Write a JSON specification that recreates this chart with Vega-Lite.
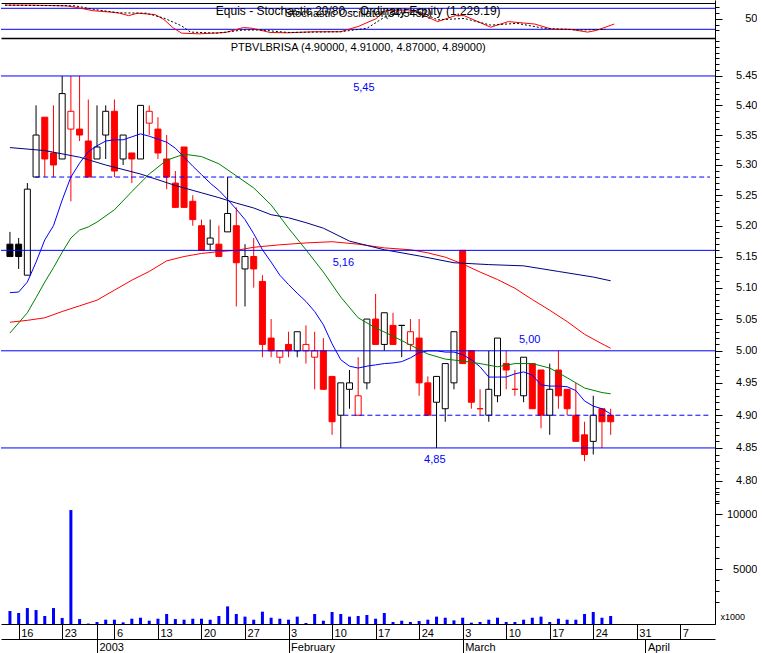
{
"$schema": "https://vega.github.io/schema/vega-lite/v6.json",
"background": "white",
"padding": 0,
"spacing": 0,
"bounds": "flush",
"datasets": {
"candles": [
{"i":0,"o":5.17,"h":5.19,"l":5.15,"c":5.15,"move":"up","vol":1180},
{"i":1,"o":5.17,"h":5.18,"l":5.13,"c":5.15,"move":"up","vol":1000},
{"i":2,"o":5.12,"h":5.27,"l":5.12,"c":5.26,"move":"up","vol":1450},
{"i":3,"o":5.28,"h":5.40,"l":5.28,"c":5.35,"move":"up","vol":1270},
{"i":4,"o":5.38,"h":5.38,"l":5.28,"c":5.31,"move":"down","vol":730},
{"i":5,"o":5.32,"h":5.40,"l":5.28,"c":5.30,"move":"down","vol":1450},
{"i":6,"o":5.31,"h":5.45,"l":5.31,"c":5.42,"move":"up","vol":550},
{"i":7,"o":5.36,"h":5.45,"l":5.24,"c":5.39,"move":"down","vol":10360},
{"i":8,"o":5.36,"h":5.45,"l":5.34,"c":5.35,"move":"down","vol":450},
{"i":9,"o":5.34,"h":5.41,"l":5.28,"c":5.28,"move":"down","vol":40},
{"i":10,"o":5.31,"h":5.40,"l":5.31,"c":5.33,"move":"up","vol":180},
{"i":11,"o":5.35,"h":5.40,"l":5.31,"c":5.39,"move":"up","vol":390},
{"i":12,"o":5.39,"h":5.41,"l":5.28,"c":5.29,"move":"down","vol":390},
{"i":13,"o":5.31,"h":5.35,"l":5.30,"c":5.35,"move":"up","vol":150},
{"i":14,"o":5.32,"h":5.32,"l":5.27,"c":5.31,"move":"down","vol":480},
{"i":15,"o":5.31,"h":5.40,"l":5.31,"c":5.40,"move":"up","vol":570},
{"i":16,"o":5.37,"h":5.40,"l":5.35,"c":5.39,"move":"down","vol":300},
{"i":17,"o":5.36,"h":5.38,"l":5.31,"c":5.32,"move":"down","vol":480},
{"i":18,"o":5.31,"h":5.35,"l":5.26,"c":5.28,"move":"down","vol":910},
{"i":19,"o":5.27,"h":5.29,"l":5.23,"c":5.23,"move":"down","vol":450},
{"i":20,"o":5.33,"h":5.33,"l":5.23,"c":5.23,"move":"down","vol":390},
{"i":21,"o":5.24,"h":5.25,"l":5.20,"c":5.21,"move":"down","vol":480},
{"i":22,"o":5.20,"h":5.21,"l":5.16,"c":5.16,"move":"down","vol":480},
{"i":23,"o":5.17,"h":5.21,"l":5.16,"c":5.18,"move":"up","vol":390},
{"i":24,"o":5.17,"h":5.20,"l":5.15,"c":5.15,"move":"down","vol":730},
{"i":25,"o":5.19,"h":5.28,"l":5.19,"c":5.22,"move":"up","vol":1600},
{"i":26,"o":5.20,"h":5.23,"l":5.07,"c":5.14,"move":"down","vol":910},
{"i":27,"o":5.13,"h":5.17,"l":5.07,"c":5.15,"move":"up","vol":670},
{"i":28,"o":5.15,"h":5.18,"l":5.10,"c":5.13,"move":"down","vol":390},
{"i":29,"o":5.11,"h":5.12,"l":4.99,"c":5.01,"move":"down","vol":1120},
{"i":30,"o":5.02,"h":5.05,"l":4.99,"c":5.00,"move":"down","vol":570},
{"i":31,"o":4.99,"h":5.00,"l":4.98,"c":5.00,"move":"down","vol":480},
{"i":32,"o":5.01,"h":5.03,"l":4.99,"c":5.00,"move":"down","vol":390},
{"i":33,"o":5.00,"h":5.03,"l":4.99,"c":5.03,"move":"up","vol":670},
{"i":34,"o":5.00,"h":5.04,"l":4.98,"c":5.01,"move":"down","vol":90},
{"i":35,"o":4.99,"h":5.03,"l":4.94,"c":5.00,"move":"down","vol":910},
{"i":36,"o":5.00,"h":5.02,"l":4.94,"c":4.94,"move":"down","vol":300},
{"i":37,"o":4.96,"h":4.96,"l":4.87,"c":4.89,"move":"down","vol":1090},
{"i":38,"o":4.90,"h":4.95,"l":4.85,"c":4.95,"move":"up","vol":910},
{"i":39,"o":4.94,"h":4.97,"l":4.91,"c":4.95,"move":"up","vol":670},
{"i":40,"o":4.90,"h":4.99,"l":4.90,"c":4.93,"move":"down","vol":730},
{"i":41,"o":4.95,"h":5.05,"l":4.94,"c":5.05,"move":"up","vol":820},
{"i":42,"o":5.05,"h":5.09,"l":5.01,"c":5.01,"move":"down","vol":480},
{"i":43,"o":5.01,"h":5.06,"l":5.00,"c":5.06,"move":"up","vol":1000},
{"i":44,"o":5.04,"h":5.06,"l":5.01,"c":5.01,"move":"down","vol":180},
{"i":45,"o":5.04,"h":5.04,"l":4.99,"c":5.04,"move":"up","vol":300},
{"i":46,"o":5.01,"h":5.05,"l":5.00,"c":5.03,"move":"down","vol":180},
{"i":47,"o":5.02,"h":5.05,"l":4.93,"c":4.95,"move":"down","vol":270},
{"i":48,"o":4.95,"h":4.96,"l":4.90,"c":4.90,"move":"down","vol":390},
{"i":49,"o":4.92,"h":4.96,"l":4.85,"c":4.96,"move":"up","vol":670},
{"i":50,"o":4.91,"h":4.98,"l":4.89,"c":4.98,"move":"up","vol":570},
{"i":51,"o":4.95,"h":5.03,"l":4.94,"c":5.03,"move":"up","vol":330},
{"i":52,"o":5.16,"h":5.16,"l":4.98,"c":4.98,"move":"down","vol":570},
{"i":53,"o":5.00,"h":5.00,"l":4.91,"c":4.92,"move":"down","vol":120},
{"i":54,"o":4.91,"h":4.94,"l":4.90,"c":4.91,"move":"down","vol":180},
{"i":55,"o":4.90,"h":5.00,"l":4.89,"c":4.94,"move":"up","vol":390},
{"i":56,"o":4.93,"h":5.02,"l":4.92,"c":5.02,"move":"up","vol":570},
{"i":57,"o":4.98,"h":5.00,"l":4.94,"c":4.97,"move":"down","vol":180},
{"i":58,"o":4.94,"h":4.97,"l":4.93,"c":4.94,"move":"down","vol":180},
{"i":59,"o":4.93,"h":4.99,"l":4.92,"c":4.99,"move":"up","vol":390},
{"i":60,"o":4.98,"h":4.98,"l":4.91,"c":4.91,"move":"down","vol":570},
{"i":61,"o":4.97,"h":4.97,"l":4.88,"c":4.90,"move":"down","vol":670},
{"i":62,"o":4.90,"h":4.98,"l":4.87,"c":4.94,"move":"up","vol":180},
{"i":63,"o":4.97,"h":5.00,"l":4.91,"c":4.93,"move":"down","vol":480},
{"i":64,"o":4.94,"h":4.94,"l":4.90,"c":4.91,"move":"down","vol":390},
{"i":65,"o":4.90,"h":4.95,"l":4.86,"c":4.86,"move":"down","vol":390},
{"i":66,"o":4.87,"h":4.89,"l":4.83,"c":4.84,"move":"down","vol":910},
{"i":67,"o":4.86,"h":4.93,"l":4.84,"c":4.90,"move":"up","vol":1090},
{"i":68,"o":4.91,"h":4.91,"l":4.85,"c":4.89,"move":"down","vol":570},
{"i":69,"o":4.90,"h":4.91,"l":4.87,"c":4.89,"move":"down","vol":730}
],
"ma": [
{"s":"m10","i":0,"v":5.092},{"s":"m10","i":1,"v":5.093},{"s":"m10","i":2,"v":5.109},{"s":"m10","i":3,"v":5.141},{"s":"m10","i":4,"v":5.177},{"s":"m10","i":5,"v":5.200},{"s":"m10","i":6,"v":5.242},{"s":"m10","i":7,"v":5.280},{"s":"m10","i":8,"v":5.303},{"s":"m10","i":9,"v":5.322},{"s":"m10","i":10,"v":5.332},{"s":"m10","i":11,"v":5.340},{"s":"m10","i":12,"v":5.342},{"s":"m10","i":13,"v":5.342},{"s":"m10","i":14,"v":5.347},{"s":"m10","i":15,"v":5.352},{"s":"m10","i":16,"v":5.348},{"s":"m10","i":17,"v":5.343},{"s":"m10","i":18,"v":5.338},{"s":"m10","i":19,"v":5.328},{"s":"m10","i":20,"v":5.313},{"s":"m10","i":21,"v":5.298},{"s":"m10","i":22,"v":5.284},{"s":"m10","i":23,"v":5.270},{"s":"m10","i":24,"v":5.258},{"s":"m10","i":25,"v":5.243},{"s":"m10","i":26,"v":5.227},{"s":"m10","i":27,"v":5.210},{"s":"m10","i":28,"v":5.187},{"s":"m10","i":29,"v":5.161},{"s":"m10","i":30,"v":5.141},{"s":"m10","i":31,"v":5.120},{"s":"m10","i":32,"v":5.105},{"s":"m10","i":33,"v":5.091},{"s":"m10","i":34,"v":5.078},{"s":"m10","i":35,"v":5.062},{"s":"m10","i":36,"v":5.041},{"s":"m10","i":37,"v":5.011},{"s":"m10","i":38,"v":4.986},{"s":"m10","i":39,"v":4.976},{"s":"m10","i":40,"v":4.973},{"s":"m10","i":41,"v":4.976},{"s":"m10","i":42,"v":4.978},{"s":"m10","i":43,"v":4.980},{"s":"m10","i":44,"v":4.981},{"s":"m10","i":45,"v":4.983},{"s":"m10","i":46,"v":4.989},{"s":"m10","i":47,"v":4.997},{"s":"m10","i":48,"v":5.000},{"s":"m10","i":49,"v":5.000},{"s":"m10","i":50,"v":4.998},{"s":"m10","i":51,"v":4.998},{"s":"m10","i":52,"v":4.994},{"s":"m10","i":53,"v":4.986},{"s":"m10","i":54,"v":4.975},{"s":"m10","i":55,"v":4.959},{"s":"m10","i":56,"v":4.959},{"s":"m10","i":57,"v":4.959},{"s":"m10","i":58,"v":4.964},{"s":"m10","i":59,"v":4.967},{"s":"m10","i":60,"v":4.962},{"s":"m10","i":61,"v":4.947},{"s":"m10","i":62,"v":4.945},{"s":"m10","i":63,"v":4.945},{"s":"m10","i":64,"v":4.944},{"s":"m10","i":65,"v":4.938},{"s":"m10","i":66,"v":4.922},{"s":"m10","i":67,"v":4.914},{"s":"m10","i":68,"v":4.910},{"s":"m10","i":69,"v":4.902},
{"s":"m20","i":0,"v":5.028},{"s":"m20","i":2,"v":5.060},{"s":"m20","i":3,"v":5.084},{"s":"m20","i":4,"v":5.109},{"s":"m20","i":5,"v":5.132},{"s":"m20","i":6,"v":5.157},{"s":"m20","i":7,"v":5.180},{"s":"m20","i":8,"v":5.193},{"s":"m20","i":9,"v":5.198},{"s":"m20","i":10,"v":5.206},{"s":"m20","i":12,"v":5.226},{"s":"m20","i":14,"v":5.256},{"s":"m20","i":16,"v":5.285},{"s":"m20","i":18,"v":5.308},{"s":"m20","i":20,"v":5.318},{"s":"m20","i":22,"v":5.314},{"s":"m20","i":24,"v":5.302},{"s":"m20","i":26,"v":5.282},{"s":"m20","i":28,"v":5.262},{"s":"m20","i":30,"v":5.234},{"s":"m20","i":32,"v":5.196},{"s":"m20","i":34,"v":5.161},{"s":"m20","i":36,"v":5.125},{"s":"m20","i":38,"v":5.085},{"s":"m20","i":40,"v":5.052},{"s":"m20","i":42,"v":5.036},{"s":"m20","i":44,"v":5.023},{"s":"m20","i":46,"v":5.009},{"s":"m20","i":48,"v":4.995},{"s":"m20","i":50,"v":4.987},{"s":"m20","i":52,"v":4.984},{"s":"m20","i":54,"v":4.980},{"s":"m20","i":56,"v":4.975},{"s":"m20","i":58,"v":4.980},{"s":"m20","i":60,"v":4.980},{"s":"m20","i":62,"v":4.973},{"s":"m20","i":64,"v":4.958},{"s":"m20","i":66,"v":4.942},{"s":"m20","i":68,"v":4.935},{"s":"m20","i":69,"v":4.933},
{"s":"m50","i":0,"v":5.045},{"s":"m50","i":2,"v":5.048},{"s":"m50","i":4,"v":5.052},{"s":"m50","i":6,"v":5.062},{"s":"m50","i":8,"v":5.071},{"s":"m50","i":10,"v":5.080},{"s":"m50","i":12,"v":5.096},{"s":"m50","i":14,"v":5.112},{"s":"m50","i":16,"v":5.126},{"s":"m50","i":18,"v":5.143},{"s":"m50","i":20,"v":5.150},{"s":"m50","i":22,"v":5.155},{"s":"m50","i":24,"v":5.158},{"s":"m50","i":26,"v":5.160},{"s":"m50","i":28,"v":5.165},{"s":"m50","i":31,"v":5.169},{"s":"m50","i":34,"v":5.172},{"s":"m50","i":37,"v":5.174},{"s":"m50","i":40,"v":5.170},{"s":"m50","i":43,"v":5.164},{"s":"m50","i":46,"v":5.161},{"s":"m50","i":48,"v":5.156},{"s":"m50","i":50,"v":5.149},{"s":"m50","i":52,"v":5.138},{"s":"m50","i":54,"v":5.125},{"s":"m50","i":56,"v":5.113},{"s":"m50","i":58,"v":5.099},{"s":"m50","i":60,"v":5.081},{"s":"m50","i":62,"v":5.064},{"s":"m50","i":64,"v":5.046},{"s":"m50","i":66,"v":5.026},{"s":"m50","i":68,"v":5.011},{"s":"m50","i":69,"v":5.004},
{"s":"m100","i":0,"v":5.329},{"s":"m100","i":4,"v":5.324},{"s":"m100","i":8,"v":5.313},{"s":"m100","i":11,"v":5.300},{"s":"m100","i":15,"v":5.285},{"s":"m100","i":19,"v":5.266},{"s":"m100","i":22,"v":5.254},{"s":"m100","i":24,"v":5.246},{"s":"m100","i":26,"v":5.237},{"s":"m100","i":28,"v":5.229},{"s":"m100","i":30,"v":5.218},{"s":"m100","i":32,"v":5.213},{"s":"m100","i":34,"v":5.205},{"s":"m100","i":36,"v":5.196},{"s":"m100","i":39,"v":5.175},{"s":"m100","i":43,"v":5.161},{"s":"m100","i":47,"v":5.151},{"s":"m100","i":51,"v":5.140},{"s":"m100","i":55,"v":5.137},{"s":"m100","i":59,"v":5.135},{"s":"m100","i":63,"v":5.126},{"s":"m100","i":67,"v":5.117},{"s":"m100","i":69,"v":5.111}
],
"stochK": [
{"i":0,"k":89},{"i":3,"k":89},{"i":7,"k":87},{"i":8,"k":83},{"i":10,"k":73},{"i":12,"k":69},{"i":13,"k":66},{"i":14,"k":59},{"i":15,"k":66},{"i":17,"k":62},{"i":18,"k":48},{"i":19,"k":25},{"i":20,"k":9},{"i":22,"k":7},{"i":25,"k":11},{"i":27,"k":25},{"i":28,"k":23},{"i":30,"k":11},{"i":32,"k":10},{"i":35,"k":13},{"i":38,"k":13},{"i":40,"k":28},{"i":42,"k":50},{"i":43,"k":72},{"i":44,"k":75},{"i":46,"k":75},{"i":47,"k":65},{"i":49,"k":42},{"i":51,"k":59},{"i":52,"k":59},{"i":55,"k":26},{"i":57,"k":42},{"i":60,"k":35},{"i":62,"k":20},{"i":64,"k":20},{"i":66,"k":12},{"i":67,"k":17},{"i":69,"k":35}
],
"stochD": [
{"i":0,"d":89},{"i":8,"d":87},{"i":10,"d":77},{"i":13,"d":67},{"i":16,"d":66},{"i":18,"d":52},{"i":20,"d":30},{"i":21,"d":12},{"i":24,"d":9},{"i":27,"d":18},{"i":29,"d":18},{"i":32,"d":11},{"i":38,"d":13},{"i":41,"d":23},{"i":43,"d":55},{"i":45,"d":68},{"i":47,"d":70},{"i":49,"d":47},{"i":52,"d":51},{"i":55,"d":32},{"i":58,"d":37},{"i":61,"d":23},{"i":65,"d":18},{"i":68,"d":20}
],
"levels": [{"level":5.45},{"level":5.16},{"level":5.00},{"level":4.85}],
"dashed": [{"level":5.28,"start":2.9},{"level":4.90,"start":38.3}],
"notes": [
{"level":5.45,"label":"5,45","at":40.65,"side":"below"},
{"level":5.16,"label":"5,16","at":38.3,"side":"below"},
{"level":5.00,"label":"5,00","at":59.7,"side":"above"},
{"level":4.85,"label":"4,85","at":48.8,"side":"below"}
]
},
"vconcat": [
{
"width": 714,
"height": 38,
"layer": [
{
"data": {"values": [{"lvl":20},{"lvl":80}]},
"mark": {"type":"rule","color":"#0000ff","strokeWidth":1},
"encoding": {
"y": {"field":"lvl","type":"quantitative","scale":{"domain":[-4.86,103.71],"nice":false,"zero":false},
"axis": {"orient":"right","values":[16.67,33.33,50,66.67,83.33],"labelExpr":"datum.value == 50 ? '50' : ''","tickSize":{"condition":{"test":"datum.value == 50","value":7},"value":4},"labelAlign":"right","labelPadding":35,"labelBaseline":"middle","title":null,"grid":false,"labelOverlap":false}}
}
},
{
"data": {"name":"stochK"},
"mark": {"type":"line","color":"#ff0000","strokeWidth":1},
"encoding": {
"x": {"field":"i","type":"quantitative","scale":{"domain":[-0.453,80.41],"nice":false,"zero":false},
"axis": {"orient":"top","offset":-3,"ticks":false,"labels":false,"domain":true,"domainWidth":1,"title":null,"grid":false}},
"y": {"field":"k","type":"quantitative","scale":{"domain":[-4.86,103.71],"nice":false,"zero":false},"axis":null}
}
},
{
"data": {"name":"stochD"},
"mark": {"type":"line","color":"#000000","strokeWidth":1,"strokeDash":[2,2]},
"encoding": {
"x": {"field":"i","type":"quantitative","scale":{"domain":[-0.453,80.41],"nice":false,"zero":false},
"axis": {"orient":"bottom","ticks":false,"labels":false,"domain":true,"domainWidth":1.5,"title":null,"grid":false}},
"y": {"field":"d","type":"quantitative","scale":{"domain":[-4.86,103.71],"nice":false,"zero":false},"axis":null}
}
},
{
"data": {"values": [{"t":"Equis - Stochastic 20/80 -- Ordinary Equity (1,229.19)"}]},
"mark": {"type":"text","font":"Liberation Sans","fontSize":12,"color":"#000000","baseline":"middle","align":"center"},
"encoding": {
"x": {"datum":40,"type":"quantitative","scale":{"domain":[-0.453,80.41],"nice":false,"zero":false},"axis":null},
"y": {"datum":73.7,"type":"quantitative","scale":{"domain":[-4.86,103.71],"nice":false,"zero":false},"axis":null},
"text": {"field":"t"}
}
},
{
"data": {"values": [{"t":"Stochastic Oscillator(34.5452)"}]},
"mark": {"type":"text","font":"Liberation Sans","fontSize":11,"color":"#000000","baseline":"middle","align":"center"},
"encoding": {
"x": {"datum":40,"type":"quantitative","scale":{"domain":[-0.453,80.41],"nice":false,"zero":false},"axis":null},
"y": {"datum":65,"type":"quantitative","scale":{"domain":[-4.86,103.71],"nice":false,"zero":false},"axis":null},
"text": {"field":"t"}
}
}
],
"resolve": {"axis": {"x":"independent","y":"independent"}}
},
{
"width": 714,
"height": 586,
"layer": [
{
"layer": [
{
"data": {"name":"candles"},
"mark": {"type":"rule","strokeWidth":1},
"encoding": {
"x": {"field":"i","type":"quantitative","scale":{"domain":[-0.453,80.41],"nice":false,"zero":false},
"axis": {"orient":"bottom","values":[1,6,10,12,17,22,27,32,37,42,47,52,57,62,67,72,77],
"labelExpr":"['16','23','','6','13','20','27','3','10','17','24','3','10','17','24','31','7'][indexof([1,6,10,12,17,22,27,32,37,42,47,52,57,62,67,72,77], datum.value)]",
"tickSize":15,"labelPadding":-6,"labelBaseline":"middle","labelAlign":"left","labelOffset":2,"labelFlush":false,"labelOverlap":false,"title":null,"grid":false}},
"y": {"field":"l","type":"quantitative","scale":{"type":"log","domain":[4.5895,5.5153],"nice":false,"zero":false},
"axis": {"orient":"right","values":[4.77,4.78,4.79,4.8,4.81,4.82,4.83,4.84,4.85,4.86,4.87,4.88,4.89,4.9,4.91,4.92,4.93,4.94,4.95,4.96,4.97,4.98,4.99,5,5.01,5.02,5.03,5.04,5.05,5.06,5.07,5.08,5.09,5.1,5.11,5.12,5.13,5.14,5.15,5.16,5.17,5.18,5.19,5.2,5.21,5.22,5.23,5.24,5.25,5.26,5.27,5.28,5.29,5.3,5.31,5.32,5.33,5.34,5.35,5.36,5.37,5.38,5.39,5.4,5.41,5.42,5.43,5.44,5.45,5.46,5.47,5.48,5.49,5.5,5.51],
"labelExpr":"(abs(datum.value*20-round(datum.value*20))<0.01 && datum.value<5.46 && datum.value>4.79) ? format(datum.value,'.2f') : ''",
"tickSize":{"condition":{"test":"abs(datum.value*20-round(datum.value*20))<0.01 && datum.value<5.46 && datum.value>4.79","value":7},"value":4},
"labelAlign":"right","labelPadding":35,"labelBaseline":"middle","labelOverlap":false,"labelFlush":false,"title":null,"grid":false}},
"y2": {"field":"h"},
"stroke": {"field":"move","type":"nominal","scale":{"domain":["up","down"],"range":["#000000","#ff0000"]},"legend":null}
}
},
{
"data": {"name":"candles"},
"mark": {"type":"bar","size":6,"strokeWidth":1},
"encoding": {
"x": {"field":"i","type":"quantitative","scale":{"domain":[-0.453,80.41],"nice":false,"zero":false},"axis":null},
"y": {"field":"o","type":"quantitative","scale":{"type":"log","domain":[4.5895,5.5153],"nice":false,"zero":false},"axis":null},
"y2": {"field":"c"},
"fill": {"condition":{"test":"datum.c > datum.o","value":"#ffffff"},"field":"move","type":"nominal","scale":{"domain":["up","down"],"range":["#000000","#ff0000"]},"legend":null},
"stroke": {"field":"move","type":"nominal","scale":{"domain":["up","down"],"range":["#000000","#ff0000"]},"legend":null}
}
},
{
"data": {"name":"ma"},
"mark": {"type":"line"},
"encoding": {
"x": {"field":"i","type":"quantitative","scale":{"domain":[-0.453,80.41],"nice":false,"zero":false},"axis":null},
"y": {"field":"v","type":"quantitative","scale":{"type":"log","domain":[4.5895,5.5153],"nice":false,"zero":false},"axis":null},
"color": {"field":"s","type":"nominal","scale":{"domain":["m10","m20","m50","m100"],"range":["#0000ff","#008000","#ff0000","#000080"]},"legend":null},
"strokeWidth": {"field":"s","type":"nominal","scale":{"domain":["m10","m20","m50","m100"],"range":[1,1,1,1.6]},"legend":null},
"detail": {"field":"s"}
}
},
{
"data": {"name":"levels"},
"mark": {"type":"rule","color":"#0000ff","strokeWidth":1},
"encoding": {
"y": {"field":"level","type":"quantitative","scale":{"type":"log","domain":[4.5895,5.5153],"nice":false,"zero":false},"axis":null}
}
},
{
"data": {"name":"dashed"},
"mark": {"type":"rule","color":"#0000ff","strokeWidth":1,"strokeDash":[5,3]},
"encoding": {
"x": {"field":"start","type":"quantitative","scale":{"domain":[-0.453,80.41],"nice":false,"zero":false},"axis":null},
"x2": {"datum":80.41},
"y": {"field":"level","type":"quantitative","scale":{"type":"log","domain":[4.5895,5.5153],"nice":false,"zero":false},"axis":null}
}
},
{
"data": {"name":"notes"},
"transform": [{"filter":"datum.side == 'below'"}],
"mark": {"type":"text","font":"Liberation Sans","fontSize":11,"color":"#0000ff","baseline":"middle","align":"center","dy":12.5},
"encoding": {
"x": {"field":"at","type":"quantitative","scale":{"domain":[-0.453,80.41],"nice":false,"zero":false},"axis":null},
"y": {"field":"level","type":"quantitative","scale":{"type":"log","domain":[4.5895,5.5153],"nice":false,"zero":false},"axis":null},
"text": {"field":"label"}
}
},
{
"data": {"name":"notes"},
"transform": [{"filter":"datum.side == 'above'"}],
"mark": {"type":"text","font":"Liberation Sans","fontSize":11,"color":"#0000ff","baseline":"middle","align":"center","dy":-11},
"encoding": {
"x": {"field":"at","type":"quantitative","scale":{"domain":[-0.453,80.41],"nice":false,"zero":false},"axis":null},
"y": {"field":"level","type":"quantitative","scale":{"type":"log","domain":[4.5895,5.5153],"nice":false,"zero":false},"axis":null},
"text": {"field":"label"}
}
},
{
"data": {"values": [{"t":"PTBVLBRISA (4.90000, 4.91000, 4.87000, 4.89000)"}]},
"mark": {"type":"text","font":"Liberation Sans","fontSize":11,"color":"#000000","baseline":"middle","align":"center"},
"encoding": {
"x": {"datum":40,"type":"quantitative","scale":{"domain":[-0.453,80.41],"nice":false,"zero":false},"axis":null},
"y": {"datum":5.498,"type":"quantitative","scale":{"type":"log","domain":[4.5895,5.5153],"nice":false,"zero":false},"axis":null},
"text": {"field":"t"}
}
}
],
"resolve": {"axis": {"x":"independent","y":"independent"}}
},
{
"data": {"name":"candles"},
"mark": {"type":"bar","color":"#0000ff","size":3},
"encoding": {
"x": {"field":"i","type":"quantitative","scale":{"domain":[-0.453,80.41],"nice":false,"zero":false},
"axis": {"orient":"bottom","offset":15,"values":[10,32,52,73],
"labelExpr":"['2003','February','March','April'][indexof([10,32,52,73], datum.value)]",
"tickSize":14,"labelPadding":-6,"labelBaseline":"middle","labelAlign":"left","labelOffset":2,"labelFlush":false,"labelOverlap":false,"title":null,"grid":false}},
"y": {"field":"vol","type":"quantitative","scale":{"domain":[0,53273],"nice":false,"zero":true},
"axis": {"orient":"right","values":[640,2000,3000,4000,5000,6000,7000,8000,9000,10000,11000,12000],
"labelExpr":"datum.value == 5000 ? '5000' : (datum.value == 10000 ? '10000' : (datum.value < 1000 ? 'x1000' : ''))",
"tickSize":{"condition":[{"test":"datum.value == 5000 || datum.value == 10000","value":7},{"test":"datum.value < 1000","value":0}],"value":4},
"labelAlign":{"condition":{"test":"datum.value < 1000","value":"left"},"value":"right"},
"labelPadding":{"condition":{"test":"datum.value < 1000","value":5},"value":35},
"labelFontSize":{"condition":{"test":"datum.value < 1000","value":9},"value":11},
"labelBaseline":"middle","labelOverlap":false,"labelFlush":false,"title":null,"grid":false}}
}
}
],
"resolve": {"scale": {"y":"independent"}, "axis": {"x":"independent","y":"independent"}}
}
],
"config": {
"view": {"stroke": null},
"axis": {"labelFont":"Liberation Sans","labelFontSize":11,"labelColor":"#000000","domainColor":"#000000","tickColor":"#000000","grid":false}
}
}
